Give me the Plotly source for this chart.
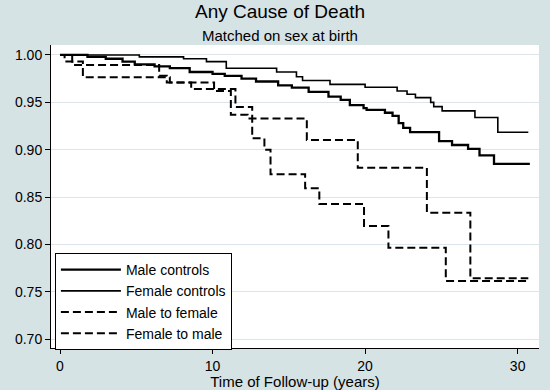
import plotly.graph_objects as go

# Kaplan-Meier step data (time in years, survival)
male_ctrl_t = [0, 1.8, 3.0, 4.1, 4.9, 6.2, 7.2, 8.5, 10.0, 10.8, 11.9, 12.85, 14.3, 15.2, 16.3,
               17.6, 18.4, 19.0, 19.9, 20.1, 21.3, 21.8, 22.2, 22.5, 22.95, 24.85, 25.7, 26.75,
               27.5, 28.45, 30.8]
male_ctrl_s = [1.0, 0.998, 0.996, 0.993, 0.990, 0.988, 0.986, 0.982, 0.980, 0.978, 0.975, 0.972,
               0.968, 0.9655, 0.961, 0.956, 0.9525, 0.947, 0.944, 0.942, 0.939, 0.9357, 0.928,
               0.923, 0.9185, 0.909, 0.905, 0.901, 0.894, 0.885, 0.885]

female_ctrl_t = [0, 5.2, 8.1, 9.6, 10.9, 14.2, 15.5, 15.9, 17.7, 20.0, 22.1, 22.75, 23.3, 24.3,
                 24.5, 25.05, 27.2, 28.7, 30.7]
female_ctrl_s = [1.0, 0.998, 0.996, 0.993, 0.986, 0.982, 0.977, 0.973, 0.969, 0.966, 0.962,
                 0.9585, 0.955, 0.950, 0.9455, 0.941, 0.934, 0.9185, 0.9185]

mtf_t = [0, 0.3, 1.5, 7.2, 8.6, 11.5, 12.6, 13.4, 13.8, 16.07, 17.0, 19.93, 21.53, 25.29, 30.7]
mtf_s = [1.0, 0.993, 0.9765, 0.971, 0.964, 0.945, 0.912, 0.900, 0.874, 0.8594, 0.8428, 0.8196,
         0.7967, 0.7616, 0.7616]

ftm_t = [0, 0.8, 6.5, 7.0, 10.1, 11.2, 12.3, 16.18, 19.52, 24.05, 26.9, 30.7]
ftm_s = [1.0, 0.9895, 0.978, 0.971, 0.962, 0.937, 0.933, 0.9103, 0.881, 0.8336, 0.7644, 0.7644]

y_ticks = [0.70, 0.75, 0.80, 0.85, 0.90, 0.95, 1.00]
x_ticks = [0, 10, 20, 30]

FONT = "Liberation Sans, Arial, sans-serif"
W, H = 550, 390
L, R, T, B = 51, 11, 45, 42
pw, ph = W - L - R, H - T - B

fig = go.Figure()
series = [
    ("Male controls", male_ctrl_t, male_ctrl_s, 2.3, "solid"),
    ("Female controls", female_ctrl_t, female_ctrl_s, 1.6, "solid"),
    ("Male to female", mtf_t, mtf_s, 2.0, "8px,4px"),
    ("Female to male", ftm_t, ftm_s, 2.0, "8px,4px"),
]
for name, t, s, w, d in series:
    fig.add_trace(go.Scatter(x=t, y=s, mode="lines", name=name, line_shape="hv",
                             line=dict(color="black", width=w, dash=d)))


def px_to_paper(x, y):
    return (x - L) / pw, (H - B - y) / ph


tx, ty = px_to_paper(280, 12)
sx, sy = px_to_paper(280, 35)

fig.update_layout(
    width=W, height=H,
    margin=dict(l=L, r=R, t=T, b=B, autoexpand=False),
    paper_bgcolor="#d6e3e5", plot_bgcolor="white",
    font=dict(family=FONT, size=15, color="black"),
    showlegend=True,
    legend=dict(x=0.008, y=-0.007, xanchor="left", yanchor="bottom",
                bgcolor="white", bordercolor="black", borderwidth=1,
                font=dict(size=14), itemwidth=60, tracegroupgap=0),
    annotations=[
        dict(text="Any Cause of Death", x=tx, y=ty, xref="paper", yref="paper",
             xanchor="center", yanchor="middle", showarrow=False, font=dict(size=19)),
        dict(text="Matched on sex at birth", x=sx, y=sy, xref="paper", yref="paper",
             xanchor="center", yanchor="middle", showarrow=False, font=dict(size=15)),
    ],
)

fig.update_xaxes(range=[-0.59, 31.4], tickvals=x_ticks, ticktext=[str(v) for v in x_ticks],
                 tickfont=dict(size=14),
                 showgrid=False, zeroline=False, showline=True, linecolor="black", linewidth=1,
                 ticks="outside", ticklen=5, tickcolor="black",
                 title=dict(text="Time of Follow-up (years)", standoff=2, font=dict(size=15)),
                 automargin=False)
fig.update_yaxes(range=[0.6908, 1.0105], tickvals=y_ticks, ticktext=[f"{v:.2f}" for v in y_ticks],
                 tickfont=dict(size=14),
                 showgrid=True, gridcolor="#dce6ea", gridwidth=1, zeroline=False,
                 showline=True, linecolor="black", linewidth=1,
                 ticks="outside", ticklen=5, tickcolor="black", automargin=False)

fig.write_html("out.html", config={"displayModeBar": False},
               post_script="document.body.style.margin='0px';")
